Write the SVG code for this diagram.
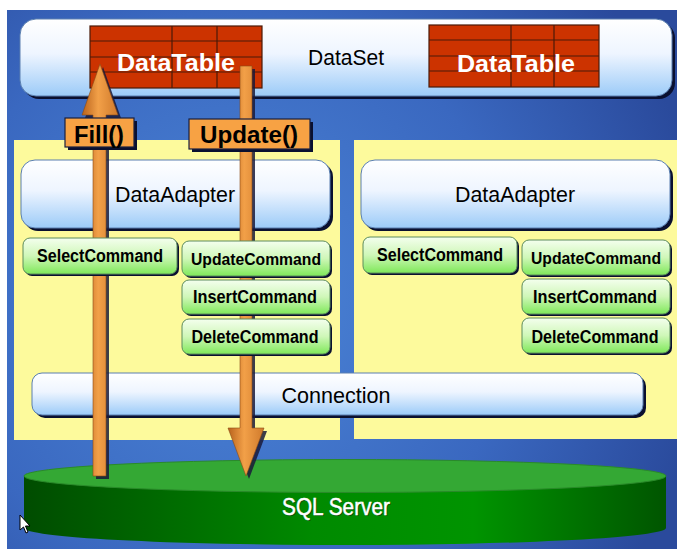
<svg xmlns="http://www.w3.org/2000/svg" width="677" height="549" viewBox="0 0 677 549">
<defs>
<radialGradient id="bg" cx="230" cy="300" r="480" gradientUnits="userSpaceOnUse">
<stop offset="0" stop-color="#4C86D8"/>
<stop offset="0.6" stop-color="#3A68C0"/>
<stop offset="1" stop-color="#2A4A9C"/>
</radialGradient>
<linearGradient id="blueBox" x1="0" y1="0" x2="0" y2="1">
<stop offset="0" stop-color="#FFFFFF"/>
<stop offset="0.45" stop-color="#EEF5FF"/>
<stop offset="1" stop-color="#9CCBF8"/>
</linearGradient>
<linearGradient id="greenBtn" x1="0" y1="0" x2="0" y2="1">
<stop offset="0" stop-color="#F4FFEE"/>
<stop offset="0.5" stop-color="#CFF7B8"/>
<stop offset="1" stop-color="#7FE85A"/>
</linearGradient>
<linearGradient id="cylSide" x1="0" y1="0" x2="1" y2="0">
<stop offset="0" stop-color="#004C00"/>
<stop offset="0.45" stop-color="#008A00"/>
<stop offset="0.7" stop-color="#009400"/>
<stop offset="1" stop-color="#005500"/>
</linearGradient>
<linearGradient id="arrowG" x1="0" y1="0" x2="1" y2="0">
<stop offset="0" stop-color="#B8621C"/>
<stop offset="0.45" stop-color="#F2A048"/>
<stop offset="1" stop-color="#D07A2C"/>
</linearGradient>
<style>
.bbox{fill:url(#blueBox);stroke:#5A7FB0;stroke-width:1}
.shadow{fill:#0A1030}
.gbtn{fill:url(#greenBtn);stroke:#5C8C5C;stroke-width:1}
.panel{fill:#FDFA9C}
.dt{fill:#CC3300;stroke:#4A1A08;stroke-width:1.2}
.dtl{stroke:#4A1A08;stroke-width:1.2}
.lbl{font-family:"Liberation Sans",Arial,sans-serif;text-anchor:middle}
.big{font-size:22px;fill:#000}
.cmd{font-size:18px;font-weight:bold;fill:#000}
.cmd17{font-size:17px}
.dtt{font-size:23px;font-weight:bold;fill:#FFFFFF}
.arrow{fill:url(#arrowG);stroke:#8A4A14;stroke-width:0.6}
.ashadow{fill:#1A1A3A;opacity:0.85}
.tag{fill:#F7A244;stroke:#1A2040;stroke-width:1.2}
.tagt{font-size:23px;font-weight:bold;fill:#000}
</style>
</defs>

<rect x="0" y="0" width="677" height="549" fill="#FFFFFF"/>
<rect x="7" y="10" width="670" height="539" fill="url(#bg)"/>

<g id="dataset">
<rect class="shadow" x="23" y="22" width="652" height="77" rx="16"/>
<rect class="bbox" x="20" y="19" width="652" height="77" rx="16"/>
<text class="lbl big" x="346" y="65" textLength="76" lengthAdjust="spacingAndGlyphs">DataSet</text>
</g>

<g id="datatable-1">
<rect class="dt" x="90" y="26" width="172" height="62"/>
<line class="dtl" x1="90" y1="41" x2="262" y2="41"/>
<line class="dtl" x1="90" y1="57" x2="262" y2="57"/>
<line class="dtl" x1="90" y1="72" x2="262" y2="72"/>
<line class="dtl" x1="172" y1="26" x2="172" y2="88"/>
<line class="dtl" x1="217" y1="26" x2="217" y2="88"/>
<text class="lbl dtt" x="176" y="71" textLength="118" lengthAdjust="spacingAndGlyphs">DataTable</text>
</g>

<g id="datatable-2">
<rect class="dt" x="429" y="25" width="170" height="62"/>
<line class="dtl" x1="429" y1="40" x2="599" y2="40"/>
<line class="dtl" x1="429" y1="56" x2="599" y2="56"/>
<line class="dtl" x1="429" y1="71" x2="599" y2="71"/>
<line class="dtl" x1="511" y1="25" x2="511" y2="87"/>
<line class="dtl" x1="554" y1="25" x2="554" y2="87"/>
<text class="lbl dtt" x="516" y="72" textLength="118" lengthAdjust="spacingAndGlyphs">DataTable</text>
</g>

<g id="panel-left">
<rect class="panel" x="14" y="140" width="326" height="300"/>
</g>
<g id="panel-right">
<rect class="panel" x="354" y="140" width="323" height="299"/>
</g>

<g id="dataadapter-1">
<rect class="shadow" x="24" y="163" width="309" height="68" rx="14"/>
<rect class="bbox" x="21" y="160" width="309" height="68" rx="14"/>
<text class="lbl big" x="175" y="202" textLength="120" lengthAdjust="spacingAndGlyphs">DataAdapter</text>
</g>

<g id="dataadapter-2">
<rect class="shadow" x="364" y="163" width="309" height="68" rx="14"/>
<rect class="bbox" x="361" y="160" width="309" height="68" rx="14"/>
<text class="lbl big" x="515" y="202" textLength="120" lengthAdjust="spacingAndGlyphs">DataAdapter</text>
</g>

<g id="connection">
<rect class="shadow" x="35" y="376" width="611" height="42" rx="10"/>
<rect class="bbox" x="32" y="373" width="611" height="42" rx="10"/>
<text class="lbl big" x="336" y="403" textLength="109" lengthAdjust="spacingAndGlyphs">Connection</text>
</g>

<g id="sql-server">
<path d="M24 476 L24 528 A321 17 0 0 0 666 528 L666 476 Z" fill="url(#cylSide)"/>
<ellipse cx="345" cy="476" rx="321" ry="16.5" fill="#34A834" stroke="#2A8A2A" stroke-width="1"/>
<text class="lbl" x="337" y="516" font-size="23" fill="#0A300A" textLength="108" lengthAdjust="spacingAndGlyphs" opacity="0.7">SQL Server</text>
<text class="lbl" x="336" y="515" font-size="23" fill="#FFFFFF" stroke="#FFFFFF" stroke-width="0.5" textLength="108" lengthAdjust="spacingAndGlyphs">SQL Server</text>
</g>

<g id="connectors">
<polygon class="ashadow" points="103,67 121,118 109,118 109,479 96,479 96,118 85,118"/>
<polygon class="arrow" points="100,64 118,115 106,115 106,476 93,476 93,115 82,115"/>
<polygon class="ashadow" points="243,69 255,69 255,431 267,431 249,479 231,431 243,431"/>
<polygon class="arrow" points="240,66 252,66 252,428 264,428 246,476 228,428 240,428"/>
<g id="fill-label">
<rect class="shadow" x="68" y="121" width="69" height="29"/>
<rect class="tag" x="65" y="118" width="69" height="29"/>
<text class="lbl tagt" x="99" y="143" textLength="50" lengthAdjust="spacingAndGlyphs">Fill()</text>
</g>
<g id="update-label">
<rect class="shadow" x="192" y="122" width="121" height="30"/>
<rect class="tag" x="189" y="119" width="121" height="30"/>
<text class="lbl tagt" x="249" y="143" textLength="98" lengthAdjust="spacingAndGlyphs">Update()</text>
</g>
</g>

<g id="selectcommand-1">
<rect class="shadow" x="25" y="240" width="154" height="36" rx="7"/>
<rect class="gbtn" x="23" y="238" width="154" height="36" rx="7"/>
<text class="lbl cmd" x="100" y="262" textLength="126" lengthAdjust="spacingAndGlyphs">SelectCommand</text>
</g>
<g id="updatecommand-1">
<rect class="shadow" x="184" y="243" width="148" height="35" rx="7"/>
<rect class="gbtn" x="182" y="241" width="148" height="35" rx="7"/>
<text class="lbl cmd cmd17" x="256" y="265" textLength="130" lengthAdjust="spacingAndGlyphs">UpdateCommand</text>
</g>
<g id="insertcommand-1">
<rect class="shadow" x="184" y="282" width="148" height="34" rx="7"/>
<rect class="gbtn" x="182" y="280" width="148" height="34" rx="7"/>
<text class="lbl cmd" x="255" y="303" textLength="124" lengthAdjust="spacingAndGlyphs">InsertCommand</text>
</g>
<g id="deletecommand-1">
<rect class="shadow" x="184" y="321" width="148" height="35" rx="7"/>
<rect class="gbtn" x="182" y="319" width="148" height="35" rx="7"/>
<text class="lbl cmd" x="255" y="343" textLength="127" lengthAdjust="spacingAndGlyphs">DeleteCommand</text>
</g>

<g id="selectcommand-2">
<rect class="shadow" x="365" y="239" width="154" height="36" rx="7"/>
<rect class="gbtn" x="363" y="237" width="154" height="36" rx="7"/>
<text class="lbl cmd" x="440" y="261" textLength="126" lengthAdjust="spacingAndGlyphs">SelectCommand</text>
</g>
<g id="updatecommand-2">
<rect class="shadow" x="524" y="242" width="148" height="35" rx="7"/>
<rect class="gbtn" x="522" y="240" width="148" height="35" rx="7"/>
<text class="lbl cmd cmd17" x="596" y="264" textLength="130" lengthAdjust="spacingAndGlyphs">UpdateCommand</text>
</g>
<g id="insertcommand-2">
<rect class="shadow" x="524" y="281" width="148" height="35" rx="7"/>
<rect class="gbtn" x="522" y="279" width="148" height="35" rx="7"/>
<text class="lbl cmd" x="595" y="303" textLength="124" lengthAdjust="spacingAndGlyphs">InsertCommand</text>
</g>
<g id="deletecommand-2">
<rect class="shadow" x="524" y="320" width="148" height="35" rx="7"/>
<rect class="gbtn" x="522" y="318" width="148" height="35" rx="7"/>
<text class="lbl cmd" x="595" y="343" textLength="127" lengthAdjust="spacingAndGlyphs">DeleteCommand</text>
</g>

<polygon points="20,515 20,530 23.5,527 26,533 28,532 25.5,526 30,526" fill="#FFFFFF" stroke="#000000" stroke-width="1"/>
</svg>
